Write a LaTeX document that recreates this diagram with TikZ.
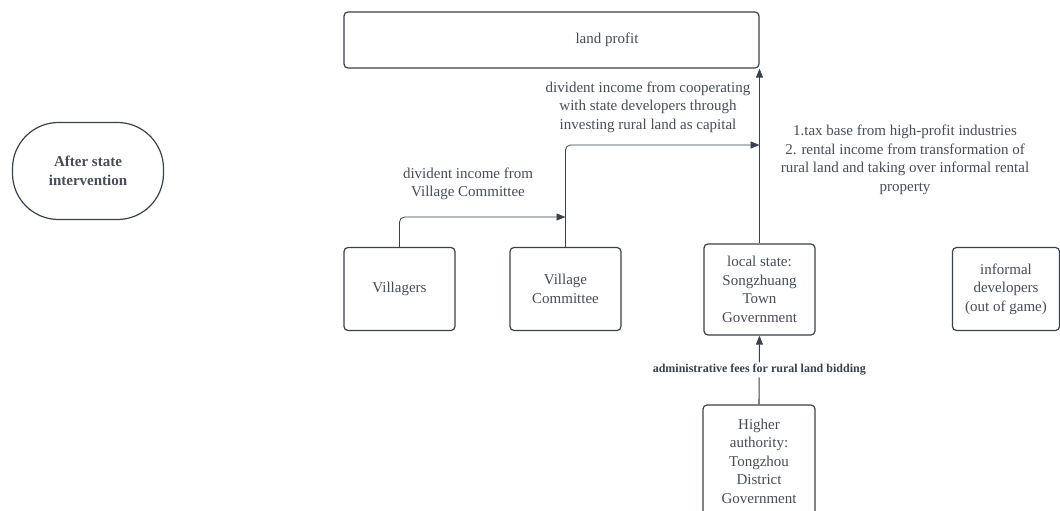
\documentclass[tikz,border=0pt]{standalone}
\usepackage{fontspec}
\setmainfont{Liberation Serif}
\usetikzlibrary{arrows.meta}
\definecolor{ink}{HTML}{3A414A}
\definecolor{txt}{HTML}{474C55}
\begin{document}
\begin{tikzpicture}[x=1pt,y=-1pt,
  box/.style={draw=ink, line width=1.2pt, rounded corners=4pt, text=txt,
    align=center, font=\fontsize{15}{18.5}\selectfont, inner sep=0pt},
  lbl/.style={text=txt, align=center, font=\fontsize{15}{18.5}\selectfont, inner sep=0pt},
  flow/.style={draw=ink, line width=0.8pt, rounded corners=5pt,
    -{Triangle[length=9pt,width=7pt]}}]
\useasboundingbox (0,0) rectangle (1060,511);

% title badge
\node[draw=ink, line width=1.2pt, rounded corners=46pt, minimum width=151, minimum height=97,
  text=txt, align=center, font=\bfseries\fontsize{15}{18.5}\selectfont] (title) at (88,171)
  {After state\\intervention};

% top box
\node[box, minimum width=415, minimum height=56] (profit) at (551.5,40) {};
\node[lbl] (profittext) at (607,40) {land profit};

% actors
\node[box, minimum width=111, minimum height=83] (vill) at (399.5,289) {Villagers};
\node[box, minimum width=111, minimum height=83] (vc) at (565.5,289) {Village\\Committee};
\node[box, minimum width=111, minimum height=91] (local) at (759.5,289.5)
  {local state:\\Songzhuang\\Town\\Government};
\node[box, minimum width=107, minimum height=83] (inf) at (1006,289)
  {informal\\developers\\(out of game)};
\node[box, minimum width=112, minimum height=112] (higher) at (759,461)
  {Higher\\authority:\\Tongzhou\\District\\Government};

% junction points on the upward flows
\coordinate (j1) at (565.5,217);
\coordinate (j2) at (759.5,145);

% flows
\draw[flow] (vill.north) |- (j1);
\draw[flow] (vc.north) |- (j2);
\draw[flow] (local.north) -- (local.north |- profit.south);
\draw[flow, line width=1.1pt] (higher.north) -- (local.south)
  node[midway, fill=white, inner sep=2pt, text=ink, font=\bfseries\fontsize{12}{14}\selectfont] (fee)
  {administrative fees for rural land bidding};

% flow labels
\node[lbl] (l1) at (468,184) {divident income from\\Village Committee};
\node[lbl] (l2) at (648,107) {divident income from cooperating\\with state developers through\\investing rural land as capital};
\node[lbl] (l3) at (905,160) {1.tax base from high-profit industries\\2. rental income from transformation of\\rural land and taking over informal rental\\property};
\end{tikzpicture}
\end{document}
